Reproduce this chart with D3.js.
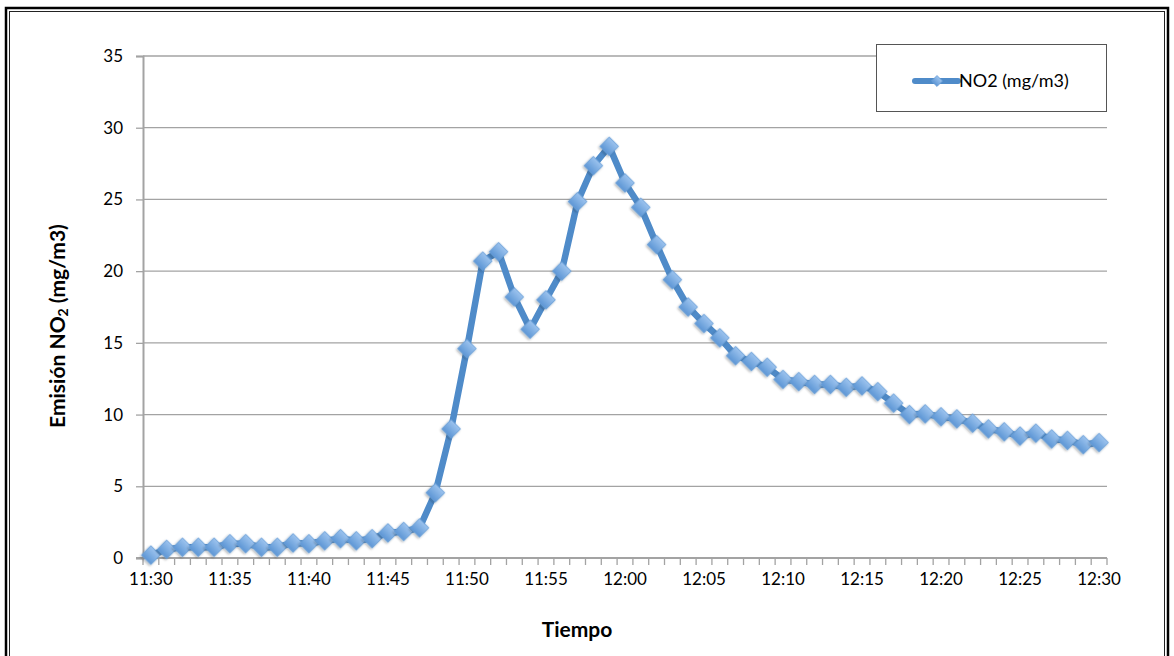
<!DOCTYPE html>
<html>
<head>
<meta charset="utf-8">
<script src="https://cdn.jsdelivr.net/npm/d3@7/dist/d3.min.js"></script>
<style>
  html, body { margin: 0; padding: 0; background: #fff; }
  svg { display: block; font-family: Lato, "Open Sans", "DejaVu Sans", sans-serif; }
</style>
</head>
<body>
<svg id="chart" width="1174" height="656"></svg>
<script>
// Minute-by-minute readings from 11:30 to 12:30
const times = [
  "11:30","11:31","11:32","11:33","11:34","11:35","11:36","11:37","11:38","11:39",
  "11:40","11:41","11:42","11:43","11:44","11:45","11:46","11:47","11:48","11:49",
  "11:50","11:51","11:52","11:53","11:54","11:55","11:56","11:57","11:58","11:59",
  "12:00","12:01","12:02","12:03","12:04","12:05","12:06","12:07","12:08","12:09",
  "12:10","12:11","12:12","12:13","12:14","12:15","12:16","12:17","12:18","12:19",
  "12:20","12:21","12:22","12:23","12:24","12:25","12:26","12:27","12:28","12:29",
  "12:30"
];

const no2 = [
  0.2, 0.6, 0.75, 0.75, 0.75, 1.0, 1.0, 0.75, 0.75, 1.05,
  1.0, 1.2, 1.35, 1.2, 1.35, 1.75, 1.85, 2.1, 4.55, 9.0,
  14.6, 20.7, 21.35, 18.2, 15.95, 18.0, 20.0, 24.85, 27.35, 28.7,
  26.15, 24.45, 21.85, 19.4, 17.5, 16.35, 15.35, 14.1, 13.7, 13.3,
  12.45, 12.3, 12.1, 12.1, 11.9, 12.0, 11.6, 10.8, 10.0, 10.05,
  9.85, 9.7, 9.4, 9.0, 8.8, 8.5, 8.7, 8.3, 8.2, 7.9,
  8.05
];

const xTickLabels = ["11:30","11:35","11:40","11:45","11:50","11:55","12:00","12:05","12:10","12:15","12:20","12:25","12:30"];
const yTicks = [0, 5, 10, 15, 20, 25, 30, 35];
const seriesName = "NO2 (mg/m3)";

const svg = d3.select("#chart");
const plot = { left: 143, right: 1107, top: 56, bottom: 558 };

const x = d3.scaleBand().domain(times).range([plot.left, plot.right]).padding(0);
const y = d3.scaleLinear().domain([0, 35]).range([plot.bottom, plot.top]);
const cx = d => x(d) + x.bandwidth() / 2;

// Outer frame (double rule)
svg.append("rect").attr("x", 6).attr("y", 8).attr("width", 1162).attr("height", 700)
  .attr("fill", "none").attr("stroke", "#000").attr("stroke-width", 2.5);
svg.append("rect").attr("x", 9.5).attr("y", 11.5).attr("width", 1155).attr("height", 700)
  .attr("fill", "none").attr("stroke", "#222").attr("stroke-width", 1);

// Definitions: marker gradient and soft shadow
const defs = svg.append("defs");
const grad = defs.append("linearGradient").attr("id", "markerFill")
  .attr("x1", "0").attr("y1", "0").attr("x2", "0").attr("y2", "1");
grad.append("stop").attr("offset", "0%").attr("stop-color", "#9cc3ee");
grad.append("stop").attr("offset", "100%").attr("stop-color", "#5d96d5");
const shadow = defs.append("filter").attr("id", "shadow")
  .attr("x", "-50%").attr("y", "-50%").attr("width", "200%").attr("height", "200%");
shadow.append("feDropShadow").attr("dx", 0).attr("dy", 1.5).attr("stdDeviation", 1.2)
  .attr("flood-color", "#000").attr("flood-opacity", 0.35);

// Horizontal gridlines
svg.append("g").selectAll("line").data(yTicks.filter(t => t > 0)).join("line")
  .attr("x1", plot.left).attr("x2", plot.right)
  .attr("y1", d => y(d)).attr("y2", d => y(d))
  .attr("stroke", "#a3a3a3").attr("stroke-width", 1.3);

// Y axis
const yAxis = svg.append("g").attr("transform", `translate(${plot.left},0)`)
  .call(d3.axisLeft(y).tickValues(yTicks).tickSize(7).tickPadding(13).tickFormat(d3.format("d")));
yAxis.select(".domain").attr("stroke", "#a3a3a3").attr("stroke-width", 2);
yAxis.selectAll(".tick line").attr("stroke", "#a3a3a3").attr("stroke-width", 1.3);
yAxis.selectAll("text").attr("font-size", 17).attr("fill", "#000")
  .attr("font-family", "Lato, 'Open Sans', sans-serif");

// X axis labels
const xAxis = svg.append("g").attr("transform", `translate(0,${plot.bottom})`)
  .call(d3.axisBottom(x).tickValues(xTickLabels).tickSize(0).tickPadding(15));
xAxis.select(".domain").remove();
xAxis.selectAll("text").attr("font-size", 17).attr("fill", "#000")
  .attr("font-family", "Lato, 'Open Sans', sans-serif");

// X axis line and category boundary ticks
const boundaries = times.map(t => x(t)).concat([x(times[times.length - 1]) + x.bandwidth()]);
svg.append("g").selectAll("line").data(boundaries).join("line")
  .attr("x1", d => d).attr("x2", d => d)
  .attr("y1", plot.bottom).attr("y2", plot.bottom + 7)
  .attr("stroke", "#a3a3a3").attr("stroke-width", 1.3);
svg.append("line").attr("x1", plot.left - 7).attr("x2", plot.right)
  .attr("y1", plot.bottom).attr("y2", plot.bottom)
  .attr("stroke", "#a3a3a3").attr("stroke-width", 2);

// Axis titles
svg.append("text").attr("x", 577).attr("y", 637).attr("text-anchor", "middle")
  .attr("font-size", 21).attr("font-weight", "bold").text("Tiempo");

const yTitle = svg.append("text")
  .attr("transform", "translate(65,326) rotate(-90)")
  .attr("text-anchor", "middle").attr("font-size", 21).attr("font-weight", "bold");
yTitle.append("tspan").text("Emisión NO");
yTitle.append("tspan").attr("font-size", 14).attr("dy", 3).text("2");
yTitle.append("tspan").attr("dy", -3).text(" (mg/m3)");

// Series line
const line = d3.line().x((d, i) => cx(times[i])).y(d => y(d));
svg.append("path").datum(no2).attr("d", line)
  .attr("fill", "none").attr("stroke", "#4f8bc9").attr("stroke-width", 6.5)
  .attr("stroke-linejoin", "round");

// Diamond markers
const diamond = d3.symbol().type(d3.symbolSquare).size(175);
svg.append("g").selectAll("path").data(no2).join("path")
  .attr("d", diamond)
  .attr("transform", (d, i) => `translate(${cx(times[i])},${y(d)}) rotate(45)`)
  .attr("fill", "url(#markerFill)").attr("stroke", "#6a9fd8").attr("stroke-width", 0.8)
  .attr("filter", "url(#shadow)");

// Legend
const legend = svg.append("g");
legend.append("rect").attr("x", 876.5).attr("y", 44.5).attr("width", 230).attr("height", 67)
  .attr("fill", "#fff").attr("stroke", "#555").attr("stroke-width", 1);
legend.append("line").attr("x1", 915).attr("x2", 958).attr("y1", 81).attr("y2", 81)
  .attr("stroke", "#4f8bc9").attr("stroke-width", 6).attr("stroke-linecap", "round");
legend.append("path").attr("d", d3.symbol().type(d3.symbolSquare).size(60))
  .attr("transform", "translate(937,81) rotate(45)")
  .attr("fill", "url(#markerFill)").attr("stroke", "#6a9fd8").attr("stroke-width", 0.8);
legend.append("text").attr("x", 959).attr("y", 87).attr("font-size", 18).text(seriesName);
</script>
</body>
</html>
